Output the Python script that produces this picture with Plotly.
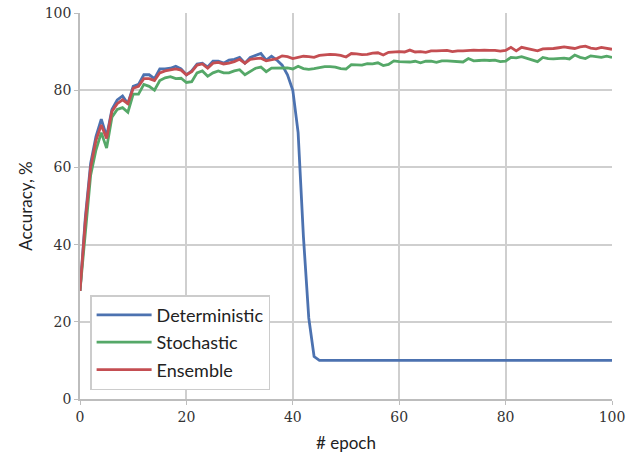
import plotly.graph_objects as go

epochs = list(range(0, 101))

deterministic = [28, 47, 61, 68, 72.5, 68, 75, 77.5, 78.5, 76.5,
                 81, 81.5, 84, 84, 83, 85.5, 85.5, 85.7, 86.2, 85.5,
                 84, 85, 86.8, 87, 86, 87.5, 87.5, 87, 87.8, 88,
                 88.5, 87, 88.5, 89, 89.5, 87.8, 88.8, 87.8, 86.5, 84,
                 80, 69, 42, 21, 11] + [10] * 56

stochastic = [28, 44, 58, 64.5, 69, 65, 73, 75, 75.5, 74.3,
              79, 79, 81.5, 81, 80, 82.5, 83.2, 83.5, 83, 83.1,
              82, 82.2, 84.5, 85, 83.6, 84.5, 85, 84.5, 84.5, 85,
              85.3, 84, 84.8, 85.7, 86, 84.8, 85.7, 85.7, 85.7, 85.8,
              85.5, 86.2, 85.6, 85.4, 85.6, 85.9, 86.1, 86.1, 86, 85.6,
              85.5, 86.6, 86.5, 86.5, 86.9, 86.8, 87.1, 86.4, 86.7, 87.6,
              87.4, 87.4, 87.3, 87.5, 87.1, 87.5, 87.5, 87.2, 87.6, 87.6,
              87.5, 87.4, 87.3, 88.2, 87.6, 87.7, 87.8, 87.7, 87.8, 87.4,
              87.5, 88.5, 88.4, 88.7, 88.3, 87.9, 87.4, 88.5, 88.2, 88.1,
              88.2, 88.3, 88.1, 89.1, 88.5, 88.2, 88.9, 88.6, 88.5, 88.8,
              88.5]

ensemble = [28, 46, 60, 67, 71, 67.5, 74.5, 76.5, 77.5, 76.5,
            80.5, 81, 83, 83, 82.5, 84.5, 85, 85.3, 85.5, 85.2,
            84, 84.8, 86.5, 86.8, 85.7, 87, 87.2, 86.8, 87, 87.4,
            88, 87, 88, 88.2, 88.3, 87.6, 88, 88.2, 88.9, 88.7,
            88.2, 88.5, 88.8, 88.7, 88.5, 89, 89.1, 89.3, 89.2, 89,
            88.6, 89.5, 89.4, 89.2, 89.3, 89.6, 89.7, 89.1, 89.8, 89.9,
            90, 89.9, 90.4, 89.9, 90, 89.8, 90.2, 90.2, 90.3, 90.3,
            90, 90.2, 90.2, 90.3, 90.4, 90.3, 90.4, 90.3, 90.3, 90.1,
            90.3, 91.1, 90.2, 91.1, 90.8, 90.6, 90.2, 90.7, 90.7, 90.8,
            91, 91.2, 91, 90.8, 91.2, 91.4, 90.9, 90.7, 91.1, 90.8,
            90.6]

series_names = ["Deterministic", "Stochastic", "Ensemble"]
series_values = [deterministic, stochastic, ensemble]
colors = ["#4C72B0", "#55A868", "#C44E52"]

tick_vals = [0, 20, 40, 60, 80, 100]
tick_text = ["0", "20", "40", "60", "80", "100"]

fig = go.Figure()
for name, vals, c in zip(series_names, series_values, colors):
    fig.add_trace(go.Scatter(x=epochs, y=vals, mode="lines", name=name,
                             legendgroup=name,
                             line=dict(color=c, width=2.8)))

axis_common = dict(
    range=[0, 100], tickvals=tick_vals, ticktext=tick_text,
    showgrid=True, gridcolor="#cfcfcf", gridwidth=1.5,
    showline=True, linecolor="#bdbdbd", linewidth=1.5,
    ticks="outside", ticklen=4, tickcolor="#bdbdbd", tickwidth=1.2,
    zeroline=False, automargin=False,
    tickfont=dict(family="DejaVu Serif, Liberation Serif, serif", size=14, color="#333333"),
)

fig.update_layout(
    width=634, height=456,
    margin=dict(l=80, r=22, t=13, b=57),
    paper_bgcolor="white", plot_bgcolor="white",
    xaxis=dict(**axis_common,
               title=dict(text="# epoch", standoff=14,
                          font=dict(family="Lato, DejaVu Sans, sans-serif", size=17, color="#222222"))),
    yaxis=dict(**axis_common,
               title=dict(text="Accuracy, %", standoff=8,
                          font=dict(family="Lato, DejaVu Sans, sans-serif", size=17, color="#222222"))),
    legend=dict(x=0.019, y=0.023, xanchor="left", yanchor="bottom",
                bgcolor="white", bordercolor="#cccccc", borderwidth=1.5,
                font=dict(family="Lato, DejaVu Sans, sans-serif", size=18, color="#222222"),
                tracegroupgap=1, itemwidth=55),
    showlegend=True,
)

fig.write_html("out.html")
